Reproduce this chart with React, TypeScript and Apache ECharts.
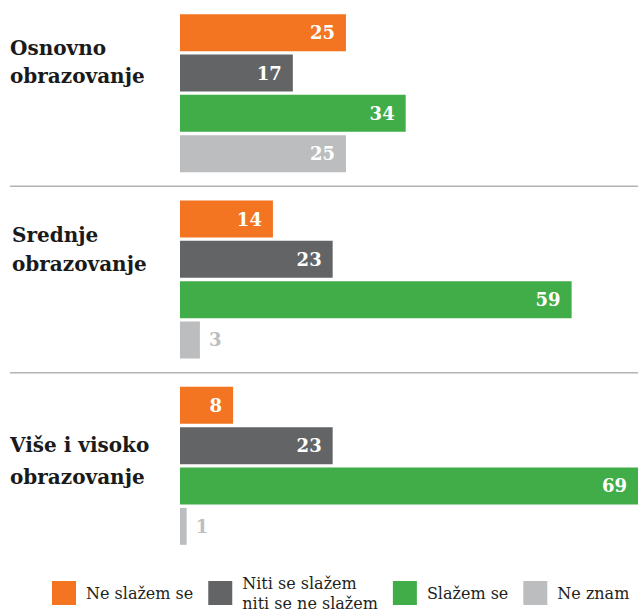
import React, { useEffect, useRef } from "react";
import * as echarts from "echarts";

const categories = ["Osnovno\nobrazovanje", "Srednje\nobrazovanje", "Više i visoko\nobrazovanje"];
const seriesNames = ["Ne slažem se", "Niti se slažem niti se ne slažem", "Slažem se", "Ne znam"];
const neSlazemSe = [25, 14, 8];
const nitiSeSlazem = [17, 23, 23];
const slazemSe = [34, 59, 69];
const neZnam = [25, 3, 1];

const colors = ["#F37421", "#636466", "#41AD49", "#BCBDBF"];
const FONT = "DejaVu Serif";

export default function App() {
  const ref = useRef<HTMLDivElement>(null);
  useEffect(() => {
    document.body.style.margin = "0";
    if (!ref.current) return;
    const chart = echarts.init(ref.current, null, { renderer: "svg" });
    const values = [neSlazemSe, nitiSeSlazem, slazemSe, neZnam];
    const series = values.map((arr, si) => ({
      name: seriesNames[si],
      type: "bar",
      barWidth: 37,
      barGap: "9%",
      itemStyle: { color: colors[si] },
      data: arr.map((v) =>
        v < 5
          ? {
              value: v,
              label: { position: "right", distance: 9, color: colors[si] },
            }
          : { value: v }
      ),
      label: {
        show: true,
        position: "insideRight",
        distance: 11,
        color: "#ffffff",
        fontFamily: FONT,
        fontWeight: "bold",
        fontSize: 18,
      },
    }));
    chart.setOption({
      animation: false,
      textStyle: { fontFamily: FONT },
      grid: { left: 180, right: 0, top: -4, bottom: 53, containLabel: false },
      xAxis: {
        type: "value",
        min: 0,
        max: 69,
        show: false,
      },
      yAxis: {
        type: "category",
        inverse: true,
        data: categories,
        axisLine: { show: false },
        axisTick: { show: false },
        axisLabel: { show: false },
        splitLine: { show: false },
      },
      legend: {
        left: 52,
        top: 573,
        width: 586,
        padding: 0,
        itemWidth: 24,
        itemHeight: 24,
        itemGap: 15,
        icon: "rect",
        formatter: (name: string) =>
          name === seriesNames[1] ? "Niti se slažem\nniti se ne slažem" : name,
        textStyle: {
          fontFamily: FONT,
          fontSize: 16,
          lineHeight: 20,
          color: "#231F20",
          padding: [0, 0, 0, 5],
        },
      },
      series,
    });

    const centers = categories.map((c) => chart.convertToPixel({ yAxisIndex: 0 }, c) as number);
    const labelY = [61.5, 249, 460.5];
    const labelLH = [28, 29, 32];
    const labelX = [10, 12, 10];
    const graphics: any[] = [];
    for (let i = 0; i < centers.length - 1; i++) {
      const y = (centers[i] + centers[i + 1]) / 2;
      graphics.push({
        type: "line",
        shape: { x1: 10, y1: y, x2: 638, y2: y },
        style: { stroke: "#B3B3B3", lineWidth: 1.5 },
        silent: true,
      });
    }
    categories.forEach((c, i) => {
      graphics.push({
        type: "text",
        x: labelX[i],
        y: labelY[i],
        style: {
          text: c,
          fontFamily: FONT,
          fontWeight: "bold",
          fontSize: 20,
          lineHeight: labelLH[i],
          fill: "#1A1A1A",
          verticalAlign: "middle",
          align: "left",
        },
      });
    });
    chart.setOption({ graphic: graphics });

    return () => chart.dispose();
  }, []);
  return <div ref={ref} style={{ width: 638, height: 612 }} />;
}
